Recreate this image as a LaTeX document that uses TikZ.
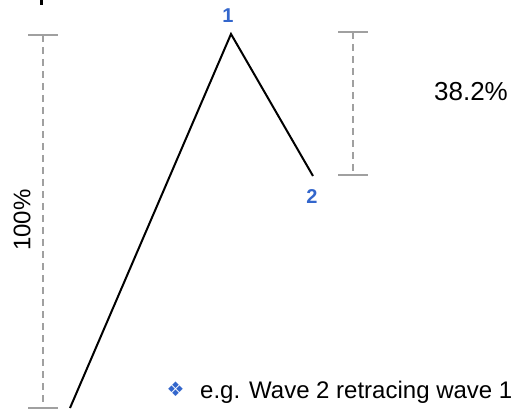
\documentclass[tikz,border=0pt]{standalone}
\usepackage{fontspec}
\setmainfont{Liberation Sans}
\newfontfamily\symfont{DejaVu Sans}
\usetikzlibrary{positioning}
\definecolor{wavelabel}{RGB}{51,102,204}
\definecolor{guide}{RGB}{160,160,160}

\begin{document}
\begin{tikzpicture}[
    x=1pt, y=-1pt,
    wave/.style={draw=black, line width=2pt},
    ruler/.style={draw=guide, line width=1.5pt, dash pattern=on 7pt off 5pt},
    rulercap/.style={draw=guide, line width=1.5pt},
    wavenum/.style={text=wavelabel, font=\bfseries\fontsize{20}{20}\selectfont, inner sep=0pt},
    pct/.style={font=\fontsize{24}{24}\selectfont, inner sep=0pt},
    note/.style={font=\fontsize{24}{24}\selectfont, inner sep=0pt, anchor=west}
]
\useasboundingbox (0,0) rectangle (513,411);

% cut-off title
\fill (40,0) rectangle (43,5);

% wave 1 and wave 2
\coordinate (w0) at (70,408);
\coordinate (w1) at (231,34);
\coordinate (w2) at (313,176);
\draw[wave] (w0) -- (w1) -- (w2);
\node[wavenum] (n1) at (228,15.5) {1};
\node[wavenum] (n2) at (312,197) {2};

% full length of wave 1
\coordinate (lt) at (43,35);
\coordinate (lb) at (43,408);
\draw[ruler] (lt) -- (lb);
\draw[rulercap] ([xshift=-15pt]lt) -- ([xshift=15pt]lt);
\draw[rulercap] ([xshift=-15pt]lb) -- ([xshift=15pt]lb);
\node[pct, rotate=90] (full) at (22,220) {100\%};

% retracement of wave 2
\coordinate (rt) at (353,32);
\coordinate (rb) at (353,175);
\draw[ruler] (rt) -- (rb);
\draw[rulercap] ([xshift=-15pt]rt) -- ([xshift=15pt]rt);
\draw[rulercap] ([xshift=-15pt]rb) -- ([xshift=15pt]rb);
\node[pct, font=\fontsize{26}{26}\selectfont] (part) at (471,92) {38.2\%};

% note
\node[text=wavelabel, font=\symfont\fontsize{20}{20}\selectfont] (bullet) at (175.5,389) {❖};
\node[note] (eg) at (200,392) {e.g. Wave 2 retracing wave 1};

\end{tikzpicture}
\end{document}
